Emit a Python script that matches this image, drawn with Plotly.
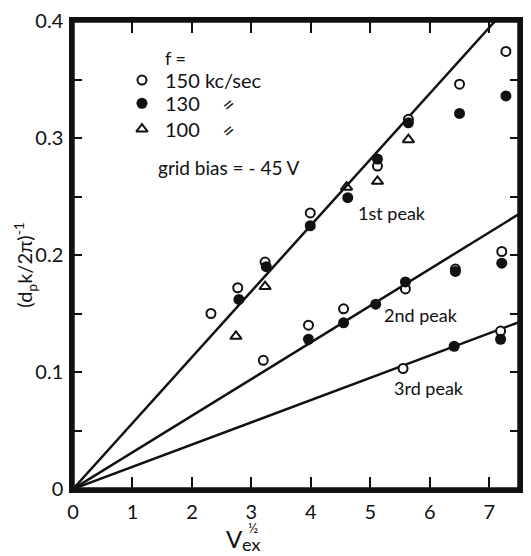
import plotly.graph_objects as go

# ---- data ----
open_x_1 = [2.32, 2.77, 3.23, 3.99, 5.12, 5.64, 6.50, 7.28]
open_y_1 = [0.150, 0.172, 0.194, 0.236, 0.276, 0.316, 0.346, 0.374]
open_x_2 = [3.20, 3.96, 4.55, 5.59, 6.43, 7.21]
open_y_2 = [0.110, 0.140, 0.154, 0.171, 0.188, 0.203]
open_x_3 = [5.55, 7.19]
open_y_3 = [0.103, 0.135]

fill_x_1 = [2.79, 3.25, 3.99, 4.62, 5.12, 5.64, 6.50, 7.28]
fill_y_1 = [0.162, 0.190, 0.225, 0.249, 0.282, 0.313, 0.321, 0.336]
fill_x_2 = [3.96, 4.55, 5.09, 5.59, 6.43, 7.21]
fill_y_2 = [0.128, 0.142, 0.158, 0.177, 0.186, 0.193]
fill_x_3 = [6.41, 7.19]
fill_y_3 = [0.122, 0.128]

tri_x = [2.74, 3.23, 4.60, 5.12, 5.64]
tri_y = [0.1305, 0.173, 0.258, 0.263, 0.2986]

fit1_x = [0, 7.10]
fit1_y = [0, 0.400]
fit2_x = [0, 7.50]
fit2_y = [0, 0.235]
fit3_x = [0, 7.50]
fit3_y = [0, 0.1426]

x_ticks = [0, 1, 2, 3, 4, 5, 6, 7]
y_ticks = [0, 0.05, 0.1, 0.15, 0.2, 0.25, 0.3, 0.35, 0.4]
y_ticktext = ["0", "", "0.1", "", "0.2", "", "0.3", "", "0.4"]

FONT = "Lato"
BLACK = "#111111"

fig = go.Figure()
for fx, fy in [(fit1_x, fit1_y), (fit2_x, fit2_y), (fit3_x, fit3_y)]:
    fig.add_trace(go.Scatter(x=fx, y=fy, mode="lines",
                             line=dict(color=BLACK, width=2.5), showlegend=False))

fig.add_trace(go.Scatter(x=open_x_1 + open_x_2 + open_x_3, y=open_y_1 + open_y_2 + open_y_3,
                         mode="markers", showlegend=False,
                         marker=dict(symbol="circle", size=9, color="white",
                                     line=dict(color=BLACK, width=2))))
fig.add_trace(go.Scatter(x=fill_x_1 + fill_x_2 + fill_x_3, y=fill_y_1 + fill_y_2 + fill_y_3,
                         mode="markers", showlegend=False,
                         marker=dict(symbol="circle", size=11, color=BLACK,
                                     line=dict(color=BLACK, width=0))))
fig.add_trace(go.Scatter(x=tri_x, y=tri_y, mode="markers", showlegend=False,
                         marker=dict(symbol="triangle-up-open", size=10, color=BLACK,
                                     line=dict(color=BLACK, width=2))))

# key symbols
key_x = [1.16, 1.16, 1.16]
key_y = [0.3495, 0.3297, 0.3076]
fig.add_trace(go.Scatter(x=[key_x[0]], y=[key_y[0]], mode="markers", showlegend=False,
                         marker=dict(symbol="circle", size=9, color="white",
                                     line=dict(color=BLACK, width=2))))
fig.add_trace(go.Scatter(x=[key_x[1]], y=[key_y[1]], mode="markers", showlegend=False,
                         marker=dict(symbol="circle", size=11, color=BLACK)))
fig.add_trace(go.Scatter(x=[key_x[2]], y=[key_y[2]], mode="markers", showlegend=False,
                         marker=dict(symbol="triangle-up-open", size=10, color=BLACK,
                                     line=dict(color=BLACK, width=2))))

def ann(text, x, y, size=19, xanchor="left", **kw):
    fig.add_annotation(text=text, x=x, y=y, xref="x", yref="y", showarrow=False,
                       xanchor=xanchor, yanchor="middle",
                       font=dict(family=FONT, size=size, color=BLACK), **kw)

def pann(text, x, y, size, **kw):
    fig.add_annotation(text=text, x=x, y=y, xref="paper", yref="paper", showarrow=False,
                       xanchor="center", yanchor="middle",
                       font=dict(family=FONT, size=size, color=BLACK), **kw)

ann("f =", 1.52, 0.3685, size=18)
ann("150 kc/sec", 1.52, 0.3495, size=20)
ann("130", 1.52, 0.3297, size=20)
ann("100", 1.52, 0.3076, size=20)
ann("=", 2.60, 0.3290, size=20, xanchor="center", textangle=-40)
ann("=", 2.60, 0.3070, size=20, xanchor="center", textangle=-40)
ann("grid bias = - 45 V", 1.40, 0.2745)
ann("1st peak", 4.76, 0.2355, size=18)
ann("2nd peak", 5.20, 0.1483, size=18)
ann("3rd peak", 5.36, 0.0864, size=18)

# x-axis title V_ex^(1/2), built from pieces in paper coordinates
pann("V", 0.362, -0.106, 24)
pann("ex", 0.400, -0.117, 18)
pann("½", 0.404, -0.083, 14)

# y-axis title
pann("(d<sub>p</sub>k/2π)<sup>-1</sup>", -0.107, 0.48, 20, textangle=-90)

# frame around the plot area
fig.add_shape(type="rect", xref="paper", yref="paper", x0=0, y0=0, x1=1, y1=1,
              line=dict(color=BLACK, width=3.5), layer="above")

fig.update_xaxes(range=[0, 7.5], tickvals=x_ticks, ticks="inside", ticklen=12, tickwidth=1.5,
                 tickcolor=BLACK, showline=True, linewidth=3.5, linecolor=BLACK, mirror="ticks",
                 showgrid=False, zeroline=False, ticklabeloverflow="allow",
                 tickfont=dict(family=FONT, size=20, color=BLACK), ticklabelstandoff=2)
fig.update_yaxes(range=[0, 0.4], tickvals=y_ticks, ticktext=y_ticktext, ticks="inside",
                 ticklen=9, tickwidth=1.5, tickcolor=BLACK, showline=True, linewidth=3.5,
                 linecolor=BLACK, mirror="ticks", showgrid=False, zeroline=False,
                 ticklabeloverflow="allow",
                 tickfont=dict(family=FONT, size=20, color=BLACK), ticklabelstandoff=2)

fig.update_layout(width=531, height=556, margin=dict(l=73, r=8, t=17, b=67),
                  plot_bgcolor="white", paper_bgcolor="white", showlegend=False)

# remove the default 8px page margin so the figure sits at the window's top-left corner
fig.write_html("out.html", config={"displayModeBar": False},
               post_script="document.body.style.margin='0';document.body.style.overflow='hidden';")
